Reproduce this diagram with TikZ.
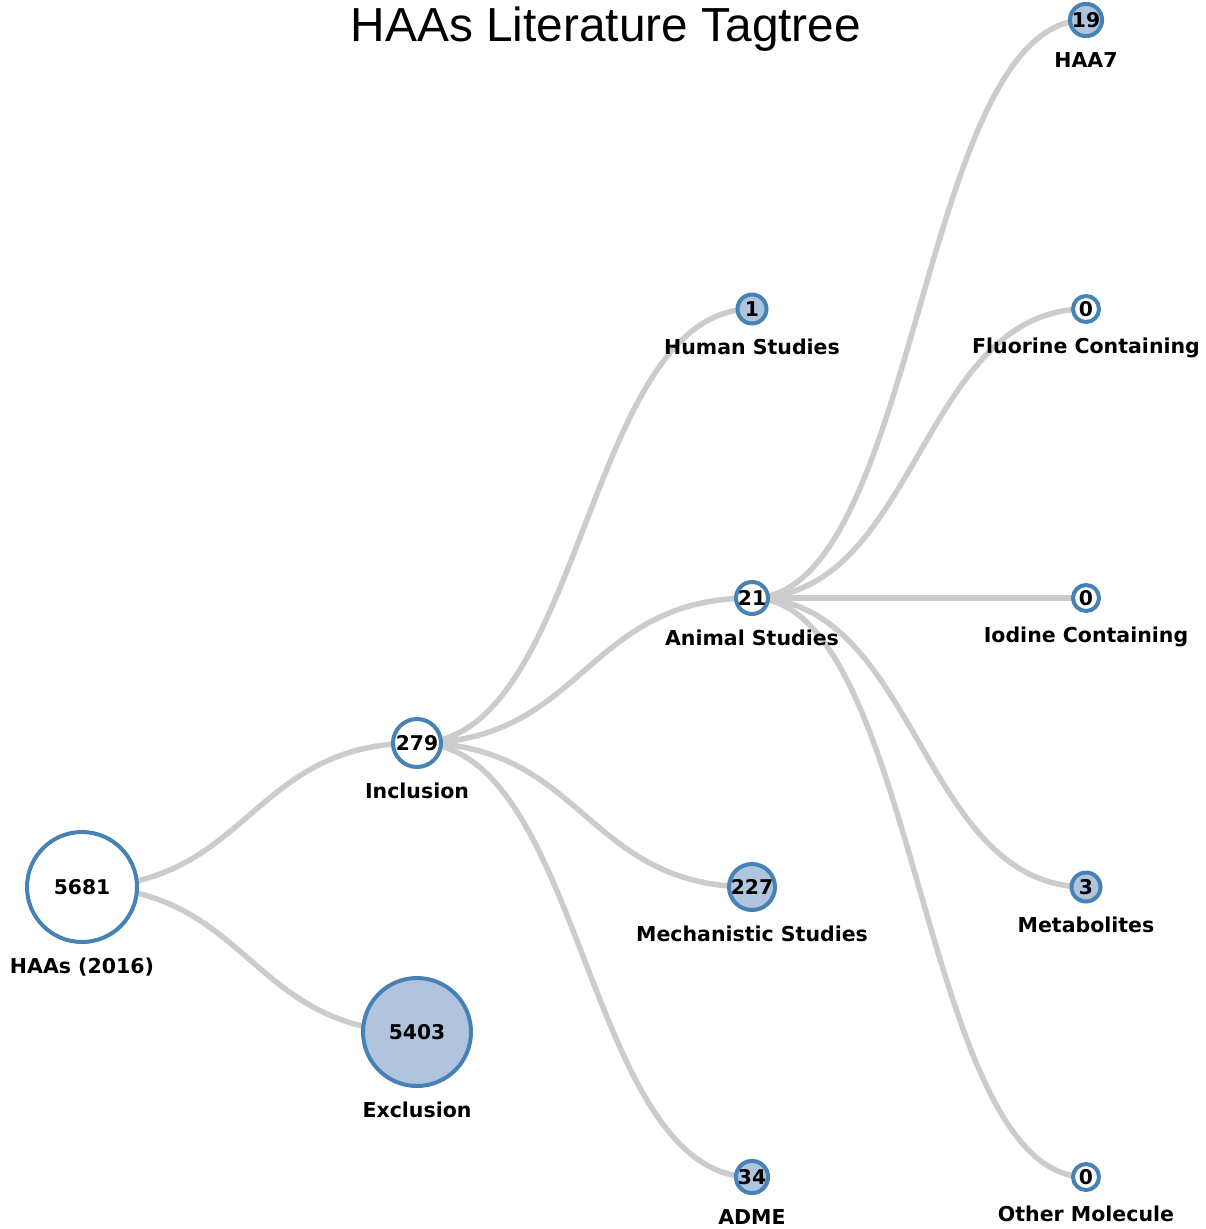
\documentclass[tikz,border=0pt]{standalone}
\usepackage{fontspec}
\setmainfont{DejaVu Sans}
\newfontfamily\titlefont{Liberation Sans}
\usetikzlibrary{positioning,calc,backgrounds}
\definecolor{tagline}{HTML}{4682B4}
\definecolor{tagfill}{HTML}{B0C4DE}
\definecolor{linkgray}{HTML}{CCCCCC}

% curved link between two tags, horizontal at both ends
\newcommand\taglink[2]{%
  \draw[link] let \p1=(#1.center), \p2=(#2.center), \p3=($(\p1)!.5!(\p2)$) in
    (\p1) .. controls (\x3,\y1) and (\x3,\y2) .. (\p2);}

\begin{document}
\begin{tikzpicture}[
  x=1pt,y=-1pt,
  tag/.style={circle,draw=tagline,line width=4pt,fill=white,inner sep=0pt,
    font=\fontsize{20.3}{24}\selectfont\bfseries},
  hit/.style={tag,fill=tagfill},
  tagname/.style={anchor=base,inner sep=0pt,font=\fontsize{20.5}{24}\selectfont\bfseries},
  link/.style={draw=linkgray,line width=5.5pt}
]
\useasboundingbox (0,0) rectangle (1205,1229);

\node[anchor=base,font=\titlefont\fontsize{47.8}{52}\selectfont] (title) at (606,41) {HAAs Literature Tagtree};

% level 0 and 1
\node[tag,minimum size=110pt] (root) at (82,887) {5681};
\node[hit,minimum size=108pt] (excl) at (417,1032) {5403};
\node[tag,minimum size=48pt] (incl) at (417,743) {279};

% level 2
\node[hit,minimum size=29pt] (human) at (752,309) {1};
\node[tag,minimum size=32pt] (animal) at (752,598) {21};
\node[hit,minimum size=46pt] (mech) at (752,887) {227};
\node[hit,minimum size=32pt] (adme) at (752,1177) {34};

% level 3
\node[hit,minimum size=32pt] (haa7) at (1086,20) {19};
\node[tag,minimum size=26pt] (fluor) at (1086,309) {0};
\node[tag,minimum size=26pt] (iod) at (1086,598) {0};
\node[hit,minimum size=29pt] (metab) at (1086,887) {3};
\node[tag,minimum size=26pt] (other) at (1086,1177) {0};

% names
\node[below=29pt of root,tagname] (root-name) {HAAs (2016)};
\node[below=29pt of excl,tagname] (excl-name) {Exclusion};
\node[below=29pt of incl,tagname] (incl-name) {Inclusion};
\node[below=29pt of human,tagname] (human-name) {Human Studies};
\node[below=29pt of animal,tagname] (animal-name) {Animal Studies};
\node[below=29pt of mech,tagname] (mech-name) {Mechanistic Studies};
\node[below=29pt of adme,tagname] (adme-name) {ADME};
\node[below=29pt of haa7,tagname] (haa7-name) {HAA7};
\node[below=29pt of fluor,tagname] (fluor-name) {Fluorine Containing};
\node[below=29pt of iod,tagname] (iod-name) {Iodine Containing};
\node[below=29pt of metab,tagname] (metab-name) {Metabolites};
\node[below=29pt of other,tagname] (other-name) {Other Molecule};

\begin{scope}[on background layer]
  \taglink{root}{incl}
  \taglink{root}{excl}
  \taglink{incl}{human}
  \taglink{incl}{animal}
  \taglink{incl}{mech}
  \taglink{incl}{adme}
  \taglink{animal}{haa7}
  \taglink{animal}{fluor}
  \taglink{animal}{iod}
  \taglink{animal}{metab}
  \taglink{animal}{other}
\end{scope}
\end{tikzpicture}
\end{document}
